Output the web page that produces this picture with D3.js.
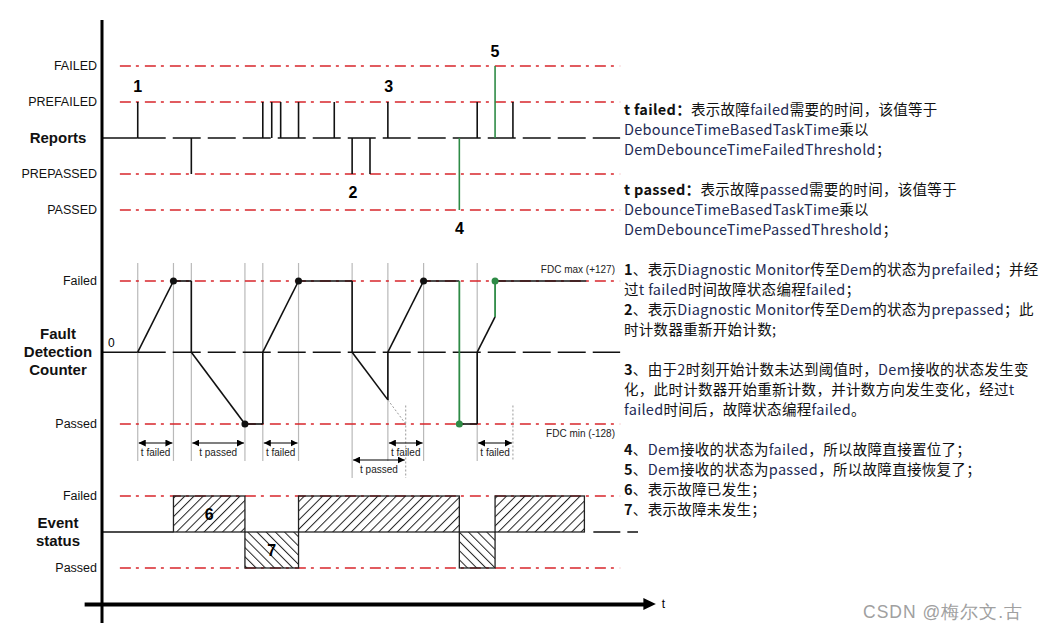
<!DOCTYPE html>
<html>
<head>
<meta charset="utf-8">
<script src="https://cdn.jsdelivr.net/npm/d3@7"></script>
<style>
  body { margin: 0; background: #fff; }
  text { font-family: "Liberation Sans", Arial, sans-serif; }
  .note { font-family: "Noto Sans CJK SC", "Noto Sans", sans-serif; font-size: 14.5px; letter-spacing: 0.3px; }
</style>
</head>
<body>
<div id="chart"></div>
<script>
var width = 1048,
  height = 631;

// time is counted in debounce steps (t failed = 2 steps, t passed = 3 steps)
var reportLevels = [2, 1, -1, -2];
var reportNames = ["FAILED", "PREFAILED", "PREPASSED", "PASSED"];
// [time, level, green?]
var reportPulses = [[2, 1, 0], [5, -1, 0], [9, 1, 0], [9.5, 1, 0], [10, 1, 0], [11, 1, 0], [13, 1, 0],
  [14, -1, 0], [15, -1, 0], [16, 1, 0], [20, -2, 1], [21, 1, 0], [22, 2, 1], [23, 1, 0]];
// [time, level, label]
var reportMarks = [[2, 1.42, "1"], [14.05, -1.5, "2"], [16.05, 1.42, "3"], [20, -2.5, "4"], [22, 2.4, "5"]];

var fdcLevels = [127, -128];
var fdcNames = ["Failed", "Passed"];
// [time, fdc, colour of the segment that starts here]
var fdcTrace = [[0, 0, "k"], [2, 0, "k"], [4, 127, "k"], [5, 127, "k"], [5, 0, "k"], [8, -128, "k"],
  [9, -128, "k"], [9, 0, "k"], [11, 127, "k"], [14, 127, "k"], [14, 0, "k"], [16, -85, "k"],
  [16, 0, "k"], [18, 127, "g"], [20, 127, "g"], [20, -128, "k"], [21, -128, "k"], [21, 0, "k"],
  [22, 63, "g"], [22, 127, "k"], [27.1, 127, "k"]];
var fdcDots = [[4, 127, "k"], [8, -128, "k"], [11, 127, "k"], [18, 127, "k"], [20, -128, "g"], [22, 127, "g"]];
var timeMarks = [2, 4, 5, 8, 9, 11, 14, 16, 18, 21];
var dottedMarks = [17, 23];
// [from, to, label, row]
var spans = [[2, 4, "t failed", 0], [5, 8, "t passed", 0], [9, 11, "t failed", 0],
  [16, 18, "t failed", 0], [14, 17, "t passed", 1], [21, 23, "t failed", 0]];

var eventNames = ["Failed", "Passed"];
// [from, to, state]
var eventSteps = [[0, 4, 0], [4, 8, 1], [8, 11, -1], [11, 20, 1], [20, 22, -1], [22, 27, 1]];
var eventMarks = [[6, 0.5, "6"], [9.5, -0.5, "7"]];

var notes = [
  "t failed：表示故障failed需要的时间，该值等于",
  "DebounceTimeBasedTaskTime乘以",
  "DemDebounceTimeFailedThreshold；",
  "",
  "t passed：表示故障passed需要的时间，该值等于",
  "DebounceTimeBasedTaskTime乘以",
  "DemDebounceTimePassedThreshold；",
  "",
  "1、表示Diagnostic Monitor传至Dem的状态为prefailed；并经",
  "过t failed时间故障状态编程failed；",
  "2、表示Diagnostic Monitor传至Dem的状态为prepassed；此",
  "时计数器重新开始计数;",
  "",
  "3、由于2时刻开始计数未达到阈值时，Dem接收的状态发生变",
  "化，此时计数器开始重新计数，并计数方向发生变化，经过t",
  "failed时间后，故障状态编程failed。",
  "",
  "4、Dem接收的状态为failed，所以故障直接置位了；",
  "5、Dem接收的状态为passed，所以故障直接恢复了；",
  "6、表示故障已发生；",
  "7、表示故障未发生；"
];

var svg = d3.select("#chart")
  .append("svg")
  .attr("width", width)
  .attr("height", height);

var x = d3.scaleLinear().domain([0, 30]).range([102, 638]);
var yRep = d3.scaleLinear().domain([-2, 2]).range([210, 66]);
var yFdc = d3.scaleLinear().domain([-128, 127]).range([424, 281]);
var yEvt = d3.scaleLinear().domain([-1, 1]).range([568, 496]);

var red = "#d8262b";
var redDash = "11,5,3,6";
var blackDash = "28,7";

var defs = svg.append("defs");
function hatch(id, angle) {
  var p = defs.append("pattern").attr("id", id)
    .attr("patternUnits", "userSpaceOnUse")
    .attr("width", 6.5).attr("height", 6.5)
    .attr("patternTransform", "rotate(" + angle + ")");
  p.append("line").attr("x1", 0.5).attr("y1", 0).attr("x2", 0.5).attr("y2", 6.5)
    .attr("stroke", "#222").attr("stroke-width", 1);
}
hatch("hatchUp", 45);
hatch("hatchDown", -45);
defs.append("marker").attr("id", "arr")
  .attr("viewBox", "0 0 10 10").attr("refX", 10).attr("refY", 5)
  .attr("markerWidth", 7).attr("markerHeight", 7)
  .attr("markerUnits", "userSpaceOnUse")
  .attr("orient", "auto-start-reverse")
  .append("path").attr("d", "M0,0L10,5L0,10z").attr("fill", "#000");

function hline(y, t0, t1, color, dash, w) {
  return svg.append("line")
    .attr("x1", x(t0)).attr("x2", x(t1))
    .attr("y1", y).attr("y2", y)
    .attr("stroke", color).attr("stroke-width", w || 1.4)
    .attr("stroke-dasharray", dash);
}

// ---------- grey time markers
timeMarks.forEach(function (t) {
  var longOne = spans.some(function (s) { return s[3] == 1 && s[0] == t; });
  svg.append("line")
    .attr("x1", x(t)).attr("x2", x(t))
    .attr("y1", yFdc(127) - 18).attr("y2", yFdc(-128) + (longOne ? 54 : 37))
    .attr("stroke", "#b9b9b9").attr("stroke-width", 1.2);
});
dottedMarks.forEach(function (t) {
  var longOne = spans.some(function (s) { return s[3] == 1 && s[1] == t; });
  svg.append("line")
    .attr("x1", x(t)).attr("x2", x(t))
    .attr("y1", yFdc(-95)).attr("y2", yFdc(-128) + (longOne ? 54 : 37))
    .attr("stroke", "#999").attr("stroke-width", 1)
    .attr("stroke-dasharray", "2,2");
});

// ---------- red threshold lines
reportLevels.forEach(function (l) { hline(yRep(l), 1, 29, red, redDash); });
fdcLevels.forEach(function (l) { hline(yFdc(l), 1, 29, red, redDash); });
[1, -1].forEach(function (l) { hline(yEvt(l), 1, 29, red, redDash); });

// ---------- Reports
hline(yRep(0), 0, 2, "#111", null, 1.6);
hline(yRep(0), 2, 29, "#111", blackDash, 1.6);
svg.selectAll(".pulse")
  .data(reportPulses)
  .enter().append("line")
  .attr("class", "pulse")
  .attr("x1", function (d) { return x(d[0]); })
  .attr("x2", function (d) { return x(d[0]); })
  .attr("y1", yRep(0))
  .attr("y2", function (d) { return yRep(d[1]); })
  .attr("stroke", function (d) { return d[2] ? "#2e8b46" : "#111"; })
  .attr("stroke-width", 1.6);
svg.selectAll(".rmark")
  .data(reportMarks)
  .enter().append("text")
  .attr("x", function (d) { return x(d[0]); })
  .attr("y", function (d) { return yRep(d[1]); })
  .attr("text-anchor", "middle").attr("dominant-baseline", "central")
  .attr("font-size", 16).attr("font-weight", "bold")
  .text(function (d) { return d[2]; });

// ---------- FDC
hline(yFdc(0), 2, 29, "#111", blackDash, 1.6);
svg.append("line")
  .attr("x1", x(16)).attr("y1", yFdc(-85))
  .attr("x2", x(17)).attr("y2", yFdc(-128))
  .attr("stroke", "#999").attr("stroke-width", 1).attr("stroke-dasharray", "2,2");
for (var i = 0; i < fdcTrace.length - 1; i++) {
  var a = fdcTrace[i], b = fdcTrace[i + 1];
  svg.append("line")
    .attr("x1", x(a[0])).attr("y1", yFdc(a[1]))
    .attr("x2", x(b[0])).attr("y2", yFdc(b[1]))
    .attr("stroke", a[2] == "g" && a[0] == b[0] ? "#2e8b46" : "#111")
    .attr("stroke-width", a[2] == "g" && a[0] == b[0] ? 1.8 : 1.6);
}
svg.selectAll(".dot")
  .data(fdcDots)
  .enter().append("circle")
  .attr("cx", function (d) { return x(d[0]); })
  .attr("cy", function (d) { return yFdc(d[1]); })
  .attr("r", 3.5)
  .attr("fill", function (d) { return d[2] == "g" ? "#2e8b46" : "#111"; });

svg.append("text").attr("x", 615).attr("y", yFdc(127) - 8)
  .attr("text-anchor", "end").attr("font-size", 10).attr("fill", "#222")
  .text("FDC max (+127)");
svg.append("text").attr("x", 615).attr("y", yFdc(-128) + 13)
  .attr("text-anchor", "end").attr("font-size", 10).attr("fill", "#222")
  .text("FDC min (-128)");
svg.append("text").attr("x", 108).attr("y", yFdc(0) - 9)
  .attr("font-size", 12).attr("dominant-baseline", "central").text("0");

spans.forEach(function (s) {
  var y = yFdc(-128) + 19 + s[3] * 17;
  svg.append("line")
    .attr("x1", x(s[0]) + 1).attr("x2", x(s[1]) - 1)
    .attr("y1", y).attr("y2", y)
    .attr("stroke", "#000").attr("stroke-width", 1.2)
    .attr("marker-start", "url(#arr)").attr("marker-end", "url(#arr)");
  svg.append("text")
    .attr("x", (x(s[0]) + x(s[1])) / 2).attr("y", y + 9)
    .attr("text-anchor", "middle").attr("dominant-baseline", "central")
    .attr("font-size", 10).attr("fill", "#222")
    .text(s[2]);
});

// ---------- Event status
eventSteps.forEach(function (s) {
  if (s[2] == 0) {
    hline(yEvt(0), s[0], s[1], "#111", null, 1.6);
    return;
  }
  var top = Math.min(yEvt(0), yEvt(s[2]));
  svg.append("rect")
    .attr("x", x(s[0])).attr("y", top)
    .attr("width", x(s[1]) - x(s[0]))
    .attr("height", Math.abs(yEvt(s[2]) - yEvt(0)))
    .attr("fill", s[2] > 0 ? "url(#hatchUp)" : "url(#hatchDown)")
    .attr("stroke", "#222").attr("stroke-width", 1.3);
});
hline(yEvt(0), 27.5, 30, "#111", "27,7", 1.6);
svg.selectAll(".emark")
  .data(eventMarks)
  .enter().append("text")
  .attr("x", function (d) { return x(d[0]); })
  .attr("y", function (d) { return yEvt(d[1]); })
  .attr("text-anchor", "middle").attr("dominant-baseline", "central")
  .attr("font-size", 16).attr("font-weight", "bold")
  .text(function (d) { return d[2]; });

// ---------- left labels
function leftLabel(y, txt) {
  svg.append("text").attr("x", 97).attr("y", y)
    .attr("text-anchor", "end").attr("dominant-baseline", "central")
    .attr("font-size", 12.5).attr("fill", "#111").text(txt);
}
reportLevels.forEach(function (l, i) { leftLabel(yRep(l), reportNames[i]); });
fdcLevels.forEach(function (l, i) { leftLabel(yFdc(l), fdcNames[i]); });
[1, -1].forEach(function (l, i) { leftLabel(yEvt(l), eventNames[i]); });

function titleLabel(yc, lines) {
  var t = svg.append("text").attr("x", 58).attr("text-anchor", "middle")
    .attr("font-size", 15).attr("font-weight", "bold").attr("fill", "#111");
  lines.forEach(function (ln, i) {
    t.append("tspan").attr("x", 58)
      .attr("y", yc + (i - (lines.length - 1) / 2) * 18 + 5)
      .text(ln);
  });
}
titleLabel(yRep(0), ["Reports"]);
titleLabel(yFdc(0), ["Fault", "Detection", "Counter"]);
titleLabel(yEvt(0), ["Event", "status"]);

// ---------- axes
svg.append("line")
  .attr("x1", x(0)).attr("x2", x(0)).attr("y1", 20).attr("y2", 623)
  .attr("stroke", "#000").attr("stroke-width", 3);
var tAxis = svg.append("g")
  .attr("transform", "translate(0,604)")
  .call(d3.axisBottom(x.copy().domain([-1, 30.5]).range([x(-1), x(30.5)])).tickValues([]).tickSizeOuter(0));
tAxis.select(".domain").attr("stroke", "#000").attr("stroke-width", 4);
svg.append("path")
  .attr("d", "M" + (x(30.3)) + ",598L" + (x(31)) + ",604L" + (x(30.3)) + ",610z")
  .attr("fill", "#000");
svg.append("text").attr("x", x(31) + 6).attr("y", 604)
  .attr("dominant-baseline", "central").attr("font-size", 12).text("t");

// ---------- notes on the right
var notesG = svg.append("g");
notes.forEach(function (str, i) {
  if (!str) return;
  var t = notesG.append("text").attr("class", "note")
    .attr("x", 624).attr("y", 108 + i * 20)
    .attr("dominant-baseline", "central")
    .attr("fill", "#111");
  var rest = str;
  var m = str.match(/^(t failed：|t passed：|\d)/);
  if (m) {
    t.append("tspan").attr("font-weight", "bold").text(m[1]);
    rest = str.slice(m[1].length);
  }
  rest.split(/([A-Za-z0-9][A-Za-z0-9 ]*[A-Za-z0-9]|[A-Za-z0-9])/).forEach(function (part, k) {
    if (!part) return;
    t.append("tspan").attr("fill", k % 2 ? "#1e2b55" : "#111").text(part);
  });
});

svg.append("text").attr("x", 863).attr("y", 612)
  .attr("dominant-baseline", "central")
  .attr("font-family", "'Noto Sans CJK SC', sans-serif")
  .attr("font-size", 17.5).attr("letter-spacing", 1).attr("fill", "#a0a0a0")
  .text("CSDN @梅尔文.古");
</script>
</body>
</html>
